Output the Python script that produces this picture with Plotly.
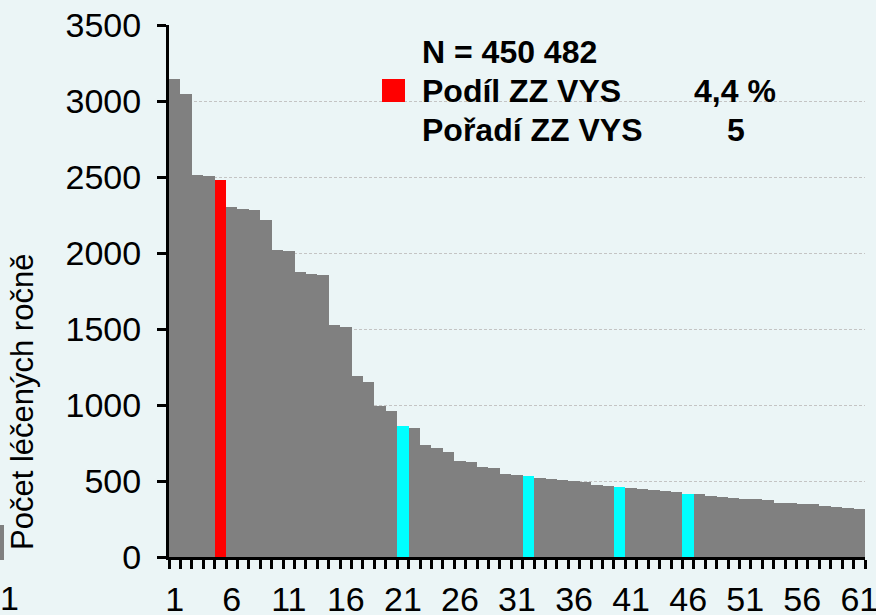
"""
Bar chart of yearly treated patients per facility, highlighting ZZ VYS
"""

import plotly.graph_objects as go

# Facilities ordered by yearly number of treated patients
ranks = list(range(1, 62))
treated = [
    3143, 3046, 2511, 2505, 2480, 2305, 2287, 2281, 2217, 2020,
    2011, 1873, 1862, 1853, 1526, 1515, 1193, 1149, 993, 963,
    862, 849, 735, 715, 689, 629, 627, 594, 586, 544,
    540, 533, 520, 513, 509, 498, 491, 476, 469, 461,
    454, 447, 441, 434, 425, 414, 412, 401, 393, 386,
    382, 382, 375, 355, 353, 347, 347, 336, 331, 320, 318,
]
red_ranks = [5]
cyan_ranks = [21, 32, 40, 46]
x_tick_labels = list(range(1, 62, 5))
y_ticks = list(range(0, 3501, 500))

n_total = "N = 450 482"
share_label = "Podíl ZZ VYS"
share_value = "4,4 %"
rank_label = "Pořadí ZZ VYS"
rank_value = "5"
y_title = "Počet léčených ročně"

BG = "#EBF5F6"
FONT = "Liberation Sans, Arial, sans-serif"

# pixel layout of the plot area (figure is 876 x 615)
L, R, T, B = 169, 11, 25, 58
PW, PH = 876 - L - R, 615 - T - B


def px_x(px):
    return (px - L) / PW


def px_y(py):
    return 1 - (py - T) / PH


def bar_color(rank):
    if rank in red_ranks:
        return "#FF0000"
    if rank in cyan_ranks:
        return "#00FFFF"
    return "#808080"


def build_figure() -> go.Figure:
    fig = go.Figure(
        go.Bar(
            x=ranks,
            y=treated,
            marker=dict(color=[bar_color(r) for r in ranks], line=dict(width=0)),
            hoverinfo="x+y",
        )
    )

    fig.update_layout(
        width=876,
        height=615,
        margin=dict(l=L, r=R, t=T, b=B, autoexpand=False),
        paper_bgcolor=BG,
        plot_bgcolor=BG,
        bargap=0,
        showlegend=False,
        font=dict(family=FONT, color="black"),
    )

    fig.update_xaxes(
        range=[0.5, 61.5],
        tickmode="array",
        tickvals=x_tick_labels,
        ticktext=[str(v) for v in x_tick_labels],
        ticks="",
        tickfont=dict(size=34),
        ticklabelstandoff=10,
        ticklabeloverflow="allow",
        showline=True,
        linecolor="black",
        linewidth=3,
        showgrid=False,
        zeroline=False,
        minor=dict(
            tickmode="array",
            tickvals=[r - 0.5 for r in ranks] + [ranks[-1] + 0.5],
            ticks="outside",
            ticklen=9,
            tickwidth=3,
            tickcolor="black",
            showgrid=False,
        ),
    )

    fig.update_yaxes(
        range=[0, 3500],
        tickmode="array",
        tickvals=y_ticks,
        ticks="outside",
        ticklen=9,
        tickwidth=3,
        tickcolor="black",
        tickfont=dict(size=34),
        ticklabelstandoff=9,
        showline=True,
        linecolor="black",
        linewidth=3,
        showgrid=True,
        gridcolor="#C4C4C4",
        gridwidth=1,
        griddash="3px,2px",
        zeroline=False,
    )

    # legend-like red square
    fig.add_shape(
        type="rect",
        xref="paper",
        yref="paper",
        x0=px_x(382),
        x1=px_x(405),
        y0=px_y(102),
        y1=px_y(79),
        fillcolor="#FF0000",
        line=dict(width=0),
    )

    # sliver of the neighbouring chart at the left edge of the slide
    fig.add_shape(
        type="rect",
        xref="paper",
        yref="paper",
        x0=px_x(0),
        x1=px_x(4),
        y0=px_y(560),
        y1=px_y(525),
        fillcolor="#808080",
        line=dict(width=0),
    )
    fig.add_annotation(
        text="1",
        xref="paper",
        yref="paper",
        x=px_x(-2),
        y=px_y(598),
        xanchor="left",
        yanchor="middle",
        showarrow=False,
        font=dict(family=FONT, size=34, color="black"),
    )

    bold = dict(family=FONT, size=32, color="black")
    notes = [
        (n_total, 420, 52, "left"),
        (share_label, 420, 91, "left"),
        (share_value, 778, 91, "right"),
        (rank_label, 420, 130, "left"),
        (rank_value, 736, 130, "center"),
    ]
    for text, x, y, anchor in notes:
        fig.add_annotation(
            text=f"<b>{text}</b>",
            xref="paper",
            yref="paper",
            x=px_x(x),
            y=px_y(y),
            xanchor=anchor,
            yanchor="middle",
            showarrow=False,
            font=bold,
        )

    fig.add_annotation(
        text=y_title,
        xref="paper",
        yref="paper",
        x=px_x(22),
        y=px_y(402),
        textangle=-90,
        xanchor="center",
        yanchor="middle",
        showarrow=False,
        font=dict(family=FONT, size=31, color="black"),
    )

    return fig


fig = build_figure()
# drop the page's default body margin so the figure fills the window
fig.write_html(
    "out.html",
    config={"displayModeBar": False},
    post_script="document.body.style.margin='0';"
    f"document.body.style.background='{BG}';",
)
